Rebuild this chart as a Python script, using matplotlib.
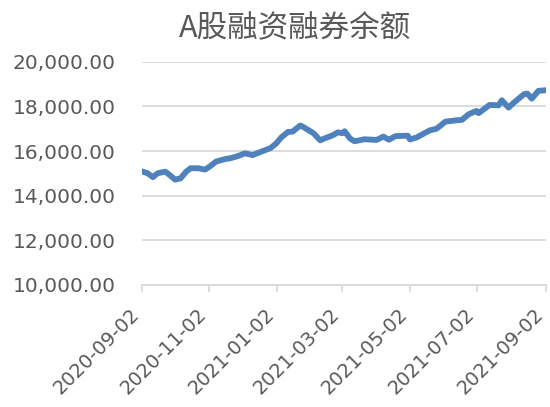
import pandas as pd
import matplotlib.pyplot as plt
import matplotlib.dates as mdates
import matplotlib.transforms as mtransforms
from matplotlib.ticker import FuncFormatter

# 读取的数据（按图估计）
dates = ['2020-09-02', '2020-09-07', '2020-09-12', '2020-09-16', '2020-09-23', '2020-09-27',
         '2020-10-02', '2020-10-07', '2020-10-12', '2020-10-16', '2020-10-23', '2020-10-29',
         '2020-11-02', '2020-11-08', '2020-11-16', '2020-11-21', '2020-11-28', '2020-12-04',
         '2020-12-11', '2020-12-19', '2020-12-27', '2021-01-01', '2021-01-06', '2021-01-12',
         '2021-01-16', '2021-01-23', '2021-01-25', '2021-01-30', '2021-02-04', '2021-02-10',
         '2021-02-14', '2021-02-21', '2021-02-26', '2021-03-02', '2021-03-04', '2021-03-09',
         '2021-03-13', '2021-03-22', '2021-04-02', '2021-04-08', '2021-04-13', '2021-04-19',
         '2021-04-30', '2021-05-02', '2021-05-08', '2021-05-20', '2021-05-26', '2021-06-03',
         '2021-06-13', '2021-06-18', '2021-06-24', '2021-07-01', '2021-07-03', '2021-07-13',
         '2021-07-21', '2021-07-24', '2021-07-30', '2021-08-05', '2021-08-13', '2021-08-16',
         '2021-08-20', '2021-08-26', '2021-09-02']
balance = [15090, 15010, 14830, 15000, 15080, 14930,
           14720, 14780, 15080, 15230, 15230, 15170,
           15300, 15530, 15640, 15680, 15780, 15900,
           15820, 15980, 16130, 16330, 16620, 16860,
           16870, 17150, 17100, 16950, 16800, 16480,
           16570, 16700, 16840, 16800, 16890, 16560,
           16440, 16530, 16500, 16650, 16510, 16670,
           16690, 16520, 16610, 16930, 17000, 17320,
           17380, 17400, 17650, 17800, 17700, 18070,
           18050, 18280, 17950, 18220, 18550, 18580,
           18350, 18700, 18730]
tick_dates = ['2020-09-02', '2020-11-02', '2021-01-02', '2021-03-02',
              '2021-05-02', '2021-07-02', '2021-09-02']

x = pd.to_datetime(dates)
ticks = pd.to_datetime(tick_dates)

fig = plt.figure(figsize=(5.5, 4.07), dpi=100)
ax = fig.add_axes([0.258, 0.300, 0.735, 0.548])

ax.plot(x, balance, color='#4f81bd', linewidth=4.2, solid_joinstyle='round')

ax.set_xlim(ticks[0], ticks[-1])
ax.set_ylim(10000, 20000)
ax.set_yticks(range(10000, 20001, 2000))
ax.yaxis.set_major_formatter(FuncFormatter(lambda v, p: f'{v:,.2f}'))
ax.set_xticks(ticks)
ax.xaxis.set_major_formatter(mdates.DateFormatter('%Y-%m-%d'))

ax.grid(axis='y', color='#d9d9d9', linewidth=1.3)
ax.set_axisbelow(True)
for s in ['top', 'right', 'left']:
    ax.spines[s].set_visible(False)
ax.spines['bottom'].set_color('#d9d9d9')
ax.spines['bottom'].set_linewidth(1.3)
ax.tick_params(axis='y', length=0, pad=19, labelsize=14.5, labelcolor='#595959')
ax.tick_params(axis='x', length=5, width=1.3, color='#d9d9d9', labelsize=14,
               labelcolor='#595959', pad=14)
# 日期标签斜放，稍微左移以免被裁掉
shift = mtransforms.ScaledTranslation(-4 / 72, 0, fig.dpi_scale_trans)
for lbl in ax.get_xticklabels():
    lbl.set_rotation(45)
    lbl.set_ha('right')
    lbl.set_va('center')
    lbl.set_rotation_mode('anchor')
    lbl.set_transform(lbl.get_transform() + shift)

# 标题
fig.text(0.537, 0.929, 'A股融资融券余额', ha='center', va='center', fontsize=22,
         color='#595959', family=['Noto Sans CJK SC', 'DejaVu Sans'])

plt.savefig('out.png')
